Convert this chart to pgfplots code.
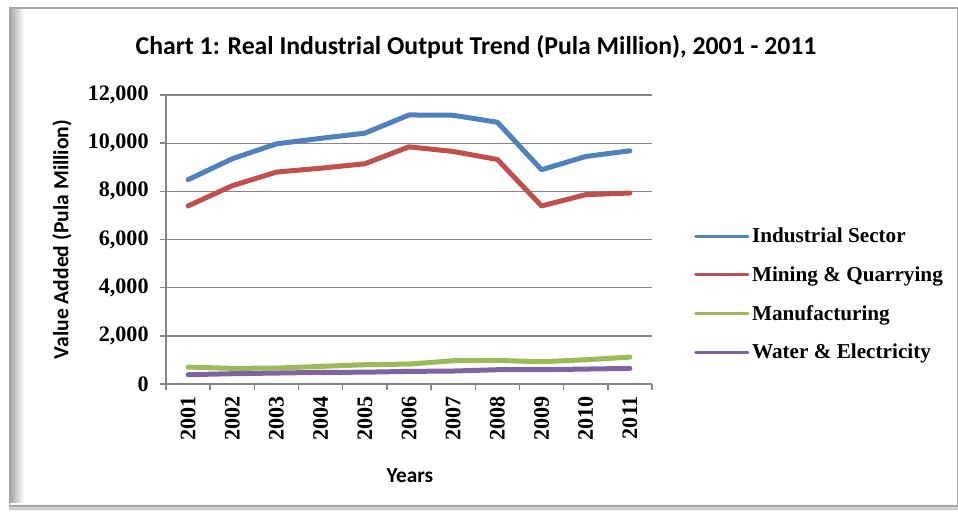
\documentclass[border=0pt]{standalone}
\usepackage{pgfplots}
\pgfplotsset{compat=1.18}
\usepackage{fontspec}
\setmainfont{Liberation Serif}
\newfontfamily\calibri{Carlito}
\definecolor{cblue}{HTML}{4F81BD}
\definecolor{cred}{HTML}{C0504D}
\definecolor{cgreen}{HTML}{9BBB59}
\definecolor{cpurple}{HTML}{8064A2}
\definecolor{axgray}{HTML}{868686}
\definecolor{framegray}{HTML}{A6A6A6}
\begin{document}
\begin{tikzpicture}[x=0.75pt,y=0.75pt]
\useasboundingbox (0,0) rectangle (958,512);
% frame and shadow
\shade[left color=gray!75, right color=white] (9,5) rectangle (24,504);
\shade[top color=white, bottom color=gray!45] (9,3) rectangle (958,9);
\draw[framegray, line width=1.2pt] (9.5,6) rectangle (957.5,504);
\node[font=\calibri\bfseries\fontsize{19.3}{21}\selectfont] at (476,465) {Chart 1: Real Industrial Output Trend (Pula Million), 2001 - 2011};
\begin{axis}[
  at={(124.5pt,96pt)}, anchor=south west,
  scale only axis, width=364.5pt, height=216.75pt,
  xmin=-0.5, xmax=10.5, ymin=0, ymax=12000,
  axis x line*=bottom, axis y line*=left,
  axis line style={axgray, line width=1.1pt},
  xtick={0,...,10},
  xticklabels={2001,2002,2003,2004,2005,2006,2007,2008,2009,2010,2011},
  minor xtick={-0.5,0.5,...,10.5},
  major x tick style={draw=none},
  minor x tick style={draw=axgray, line width=1.1pt},
  ytick={0,2000,...,12000},
  y tick style={draw=axgray, line width=1.1pt},
  tick align=outside,
  major tick length=4.5pt, minor tick length=4.5pt,
  ymajorgrids, grid style={axgray, line width=1pt},
  /pgf/number format/assume math mode=true,
  /pgf/number format/1000 sep={,},
  scaled y ticks=false,
  tick label style={font=\bfseries\fontsize{16.6}{17}\selectfont, black},
  x tick label style={rotate=90, anchor=east, yshift=0pt, xshift=-1pt},
  y tick label style={xshift=-5pt},
  ylabel={Value Added (Pula Million)},
  ylabel style={font=\calibri\bfseries\fontsize{16.2}{18}\selectfont, at={(axis description cs:-0.214,0.5)}, anchor=center},
  xlabel={Years},
  xlabel style={font=\calibri\bfseries\fontsize{16}{18}\selectfont, at={(axis description cs:0.502,-0.318)}, anchor=center},
  legend style={at={(1.078,0.56)}, anchor=north west, draw=none, fill=none,
    font=\bfseries\fontsize{15.9}{16}\selectfont, row sep=12.5pt},
  legend cell align=left,
  legend image code/.code={\draw[#1, line width=2.4pt] (0pt,0pt) -- (39pt,0pt);},
  every axis plot/.append style={line width=3.75pt, line cap=round, line join=round},
]
\addplot[cblue] coordinates {(0,8483) (1,9352) (2,9972) (3,10200) (4,10414) (5,11172) (6,11159) (7,10869) (8,8897) (9,9448) (10,9683)};
\addlegendentry{Industrial Sector}
\addplot[cred] coordinates {(0,7393) (1,8234) (2,8800) (3,8960) (4,9145) (5,9848) (6,9655) (7,9324) (8,7393) (9,7862) (10,7931)};
\addlegendentry{Mining \& Quarrying}
\addplot[cgreen] coordinates {(0,703) (1,648) (2,662) (3,730) (4,800) (5,828) (6,966) (7,980) (8,924) (9,1007) (10,1117)};
\addlegendentry{Manufacturing}
\addplot[cpurple] coordinates {(0,386) (1,428) (2,455) (3,483) (4,490) (5,524) (6,538) (7,593) (8,593) (9,620) (10,648)};
\addlegendentry{Water \& Electricity}
\end{axis}
\end{tikzpicture}
\end{document}
